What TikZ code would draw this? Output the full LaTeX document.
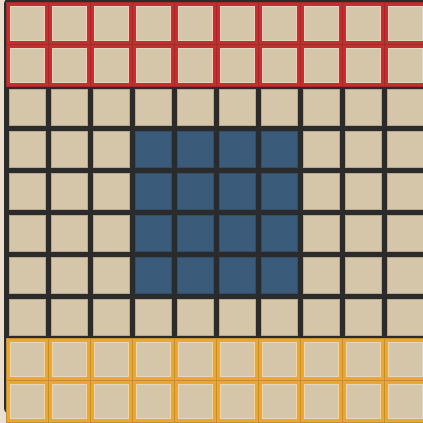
\documentclass[tikz,border=0pt]{standalone}
\usepackage{tikz}

\definecolor{paper}{HTML}{EBE0CF}
\definecolor{boarddark}{HTML}{2B2B2B}
\definecolor{cellbeige}{HTML}{D6C6A9}
\definecolor{cellblue}{HTML}{3A5B79}
\definecolor{rowred}{HTML}{C1302F}
\definecolor{roworange}{HTML}{E9A734}

\tikzset{
  cell/.style={fill=cellbeige, draw=cellbeige!85!black, line width=0.5pt},
  bluecell/.style={fill=cellblue, draw=cellblue!85!black, line width=0.5pt},
  redtile/.style={fill=rowred, draw=rowred!85!black, line width=0.6pt},
  orangetile/.style={fill=roworange, draw=roworange!85!black, line width=0.6pt},
  inset/.style={fill=cellbeige, draw=cellbeige!70!white, line width=0.9pt}
}

\begin{document}
\begin{tikzpicture}[x=1pt, y=-1pt]
  \useasboundingbox (0,0) rectangle (423,423);
  \fill[paper] (0,0) rectangle (423,423);
  % --- brættet ---
  \fill[boarddark, rounded corners=6pt] (4,-2) rectangle (440,414);
  % --- midterste felter ---
  \foreach \i in {0,...,9}
    \foreach \j in {2,...,7}
      \draw[cell] (9+42*\i,5+42*\j) rectangle ++(36,36);
  \foreach \i in {3,...,6}
    \foreach \j in {3,...,6}
      \draw[bluecell] (9+42*\i,5+42*\j) rectangle ++(36,36);
  % --- rød kant foroven ---
  \foreach \i in {0,...,9}
    \foreach \j in {0,1} {
      \draw[redtile] (6+42*\i,2+42*\j) rectangle ++(42,42);
      \draw[inset] (10+42*\i,6+42*\j) rectangle ++(34,34);
    }
  % --- orange kant forneden ---
  \foreach \i in {0,...,9}
    \foreach \j in {8,9} {
      \draw[orangetile] (6+42*\i,2+42*\j) rectangle ++(42,42);
      \draw[inset] (10+42*\i,6+42*\j) rectangle ++(34,34);
    }
\end{tikzpicture}
\end{document}
